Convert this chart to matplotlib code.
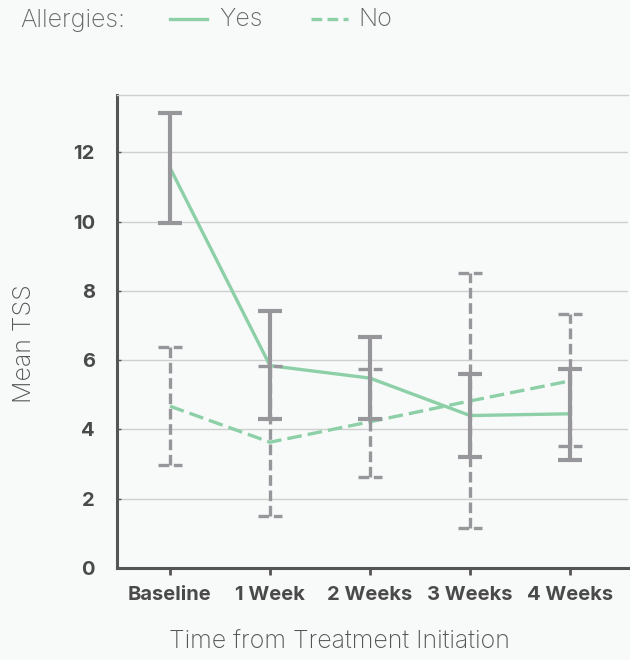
import matplotlib.pyplot as plt
from matplotlib.lines import Line2D
import numpy as np

# Mean TSS by visit, with error bar limits
visits = ["Baseline", "1 Week", "2 Weeks", "3 Weeks", "4 Weeks"]
yes_mean = [11.55, 5.84, 5.48, 4.40, 4.45]
yes_low = [9.96, 4.30, 4.30, 3.21, 3.12]
yes_high = [13.12, 7.42, 6.67, 5.60, 5.75]
no_mean = [4.67, 3.63, 4.22, 4.82, 5.40]
no_low = [2.97, 1.50, 2.62, 1.14, 3.52]
no_high = [6.38, 5.83, 5.74, 8.50, 7.33]

green = "#8dd0a8"
bar_gray = "#97979b"
text_gray = "#4a4a4a"
bg = "#f8faf9"

plt.rcParams["font.family"] = ["Inter", "DejaVu Sans"]

fig = plt.figure(figsize=(6.3, 6.6), dpi=100, facecolor=bg)
ax = fig.add_axes([0.1857, 0.1394, 0.8111, 0.7166], facecolor=bg)

x = np.arange(len(visits))
cap = 0.12

ax.plot(x, no_mean, color=green, lw=2.4, ls=(0, (4.4, 1.8)), zorder=3)
ax.plot(x, yes_mean, color=green, lw=2.4, zorder=3)

# dashed bars for "No", solid bars for "Yes"
ax.vlines(x, no_low, no_high, color=bar_gray, lw=2.4, ls=(0, (3.2, 1.4)), zorder=4)
ax.hlines(no_low + no_high, np.tile(x, 2) - cap, np.tile(x, 2) + cap,
          color=bar_gray, lw=2.4, ls=(0, (3.2, 1.4)), zorder=4)
ax.vlines(x, yes_low, yes_high, color=bar_gray, lw=3, zorder=5)
ax.hlines(yes_low + yes_high, np.tile(x, 2) - cap, np.tile(x, 2) + cap,
          color=bar_gray, lw=3, zorder=5)

ax.set_xlim(-0.53, 4.58)
ax.set_ylim(0, 13.65)
ax.set_yticks([0, 2, 4, 6, 8, 10, 12])
ax.set_xticks(x)
ax.set_xticklabels(visits)
ax.grid(axis="y", color="#cfcfcf", lw=1)
ax.set_axisbelow(True)

ax.spines["right"].set_visible(False)
ax.spines["top"].set_color("#cfcfcf")
ax.spines["top"].set_linewidth(1)
for s in ["left", "bottom"]:
    ax.spines[s].set_color("#555555")
    ax.spines[s].set_linewidth(2.2)

ax.tick_params(axis="x", length=5, width=2, color="#555555", pad=8)
ax.tick_params(axis="y", length=3, width=1, direction="in", color="#555555", pad=16)
for lab in ax.get_xticklabels() + ax.get_yticklabels():
    lab.set_fontweight("bold")
    lab.set_fontsize(14.5)
    lab.set_color(text_gray)

ax.set_xlabel("Time from Treatment Initiation", fontsize=18, fontweight="light",
              color="#555555")
ax.xaxis.set_label_coords(0.436, -0.132)
ax.set_ylabel("Mean TSS", fontsize=18, fontweight="light", color="#555555")
ax.yaxis.set_label_coords(-0.158, 0.474)

# legend across the top
fig.text(20 / 630, 1 - 20 / 660, "Allergies:", fontsize=18, fontweight="light",
         color="#666666", va="center")
fig.add_artist(Line2D([170 / 630, 207 / 630], [1 - 19 / 660] * 2, color=green, lw=2.4))
fig.text(219 / 630, 1 - 20 / 660, "Yes", fontsize=18, fontweight="light",
         color="#666666", va="center")
fig.add_artist(Line2D([311 / 630, 348 / 630], [1 - 19 / 660] * 2, color=green, lw=2.4,
                      ls=(0, (3.2, 1.6))))
fig.text(358 / 630, 1 - 20 / 660, "No", fontsize=18, fontweight="light",
         color="#666666", va="center")

fig.savefig("out.png", dpi=100, facecolor=bg)
